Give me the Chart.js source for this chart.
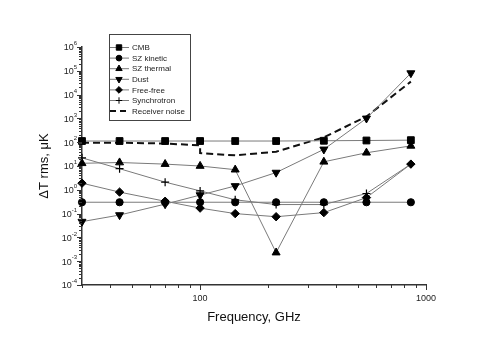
<!DOCTYPE html>
<html>
<head>
<meta charset="utf-8">
<script src="https://cdn.jsdelivr.net/npm/chart.js@4.4.1/dist/chart.umd.min.js"></script>
<style>
  body { margin: 0; background: #fff; }
  #wrap { width: 491px; height: 342px; }
</style>
</head>
<body>
<div id="wrap"><canvas id="spectrum" width="491" height="342"></canvas></div>
<script>
// frequencies (GHz) and rms temperature per component (uK)
var freqs = [30, 44, 70, 100, 143, 217, 353, 545, 857];
var cmb = [112, 112, 112, 112, 112, 112, 115, 118, 122];
var szKinetic = [0.3, 0.3, 0.3, 0.3, 0.3, 0.3, 0.3, 0.3, 0.3];
var szThermal = [13, 14, 12, 10, 7, 0.0023, 15, 36, 70];
var dust = [0.046, 0.087, 0.25, 0.6, 1.45, 5.3, 50, 1000, 80000];
var freeFree = [1.9, 0.8, 0.33, 0.17, 0.1, 0.074, 0.11, 0.47, 12];
var synchrotron = [22, 7.7, 2.1, 0.9, 0.38, 0.24, 0.24, 0.7, 12];
var noiseFreqs = [30, 44, 70, 100, 100, 143, 217, 353, 545, 857];
var noise = [95, 95, 88, 74, 35, 28, 40, 160, 1200, 35000];

var xTickLabels = [100, 1000];
var yDecades = [-4, -3, -2, -1, 0, 1, 2, 3, 4, 5, 6];

var FONT = '"Liberation Sans", Arial, sans-serif';

function isDecade(v) {
  var l = Math.log10(v);
  return Math.abs(l - Math.round(l)) < 1e-9;
}

function decadeTicks(lo, hi, from) {
  var out = [];
  for (var d = lo; d < hi; d++) {
    for (var m = 1; m < 10; m++) {
      var v = m * Math.pow(10, d);
      if (v >= from) out.push(v);
    }
  }
  out.push(Math.pow(10, hi));
  return out;
}

function pts(xs, ys) {
  return xs.map(function (x, i) { return { x: x, y: ys[i] }; });
}

function series(label, ys, style, radius, rot) {
  return {
    label: label,
    data: pts(freqs, ys),
    showLine: true,
    borderColor: '#7a7a7a',
    borderWidth: 1,
    pointStyle: style,
    pointRadius: radius,
    pointRotation: rot || 0,
    pointBackgroundColor: '#000',
    pointBorderColor: '#000',
    pointBorderWidth: style === 'cross' ? 1.2 : 1,
    clip: false
  };
}

var datasets = [
  series('CMB', cmb, 'rect', 4.8),
  series('SZ kinetic', szKinetic, 'circle', 3.6),
  series('SZ thermal', szThermal, 'triangle', 4.6),
  series('Dust', dust, 'triangle', 4.6, 180),
  series('Free-free', freeFree, 'rectRot', 4.2),
  series('Synchrotron', synchrotron, 'cross', 4),
  {
    label: 'Receiver noise',
    data: pts(noiseFreqs, noise),
    showLine: true,
    borderColor: '#111',
    borderWidth: 2,
    borderDash: [7, 4],
    pointRadius: 0,
    clip: false
  }
];

// outward tick marks and superscript decade labels
var axisDecor = {
  id: 'axisDecor',
  afterDraw: function (chart) {
    var ctx = chart.ctx, a = chart.chartArea;
    var xs = chart.scales.x, ys = chart.scales.y;
    ctx.save();
    ctx.strokeStyle = '#333';
    ctx.lineWidth = 1;
    ctx.beginPath();
    xs.ticks.forEach(function (t) {
      var p = Math.round(xs.getPixelForValue(t.value)) + 0.5;
      var len = isDecade(t.value) ? 5 : 3;
      ctx.moveTo(p, a.bottom);
      ctx.lineTo(p, a.bottom + len);
    });
    ys.ticks.forEach(function (t) {
      var p = Math.round(ys.getPixelForValue(t.value)) + 0.5;
      var len = isDecade(t.value) ? 5 : 3;
      ctx.moveTo(a.left, p);
      ctx.lineTo(a.left - len, p);
    });
    ctx.stroke();

    ctx.fillStyle = '#222';
    var right = a.left - 5;
    yDecades.forEach(function (d) {
      var p = ys.getPixelForValue(Math.pow(10, d));
      ctx.font = '6px ' + FONT;
      ctx.textAlign = 'left';
      ctx.textBaseline = 'middle';
      var e = String(d);
      var ew = ctx.measureText(e).width;
      ctx.fillText(e, right - ew, p - 3.5);
      ctx.font = '9px ' + FONT;
      ctx.textAlign = 'right';
      ctx.fillText('10', right - ew, p + 1);
    });
    ctx.restore();
  }
};

// framed legend: line with marker, then the name
var boxLegend = {
  id: 'boxLegend',
  afterDraw: function (chart) {
    var ctx = chart.ctx, a = chart.chartArea;
    var left = a.left + 27, top = a.top - 13, w = 81, h = 86;
    ctx.save();
    ctx.strokeStyle = '#444';
    ctx.lineWidth = 1;
    ctx.strokeRect(left + 0.5, top + 0.5, w, h);
    ctx.font = '8px ' + FONT;
    ctx.textBaseline = 'middle';
    ctx.textAlign = 'left';
    chart.data.datasets.forEach(function (ds, i) {
      var y = top + 13.5 + i * 10.6;
      ctx.save();
      ctx.strokeStyle = ds.borderColor;
      ctx.lineWidth = ds.borderWidth;
      if (ds.borderDash) ctx.setLineDash([6, 4]);
      ctx.beginPath();
      ctx.moveTo(left + 1, y);
      ctx.lineTo(left + 20, y);
      ctx.stroke();
      ctx.restore();
      if (ds.pointRadius > 0) {
        ctx.fillStyle = '#000';
        ctx.strokeStyle = '#000';
        Chart.helpers.drawPoint(ctx, {
          pointStyle: ds.pointStyle,
          rotation: ds.pointRotation,
          radius: ds.pointRadius * 0.8,
          borderWidth: ds.pointBorderWidth
        }, left + 10, y);
      }
      ctx.fillStyle = '#222';
      ctx.fillText(ds.label, left + 23, y + 0.5);
    });
    ctx.restore();
  }
};

window.onload = function () {
  var ctx = document.getElementById('spectrum').getContext('2d');
  window.spectrumChart = new Chart(ctx, {
    type: 'scatter',
    data: { datasets: datasets },
    options: {
      responsive: false,
      animation: false,
      devicePixelRatio: 1,
      layout: { padding: { top: 47, right: 65, left: 0, bottom: 0 } },
      plugins: { legend: { display: false }, tooltip: { enabled: false } },
      scales: {
        x: {
          type: 'logarithmic',
          position: 'bottom',
          min: 30,
          max: 1000,
          grid: { display: false, drawTicks: false },
          border: { display: true, color: '#333', width: 1.5 },
          afterBuildTicks: function (s) {
            s.ticks = decadeTicks(1, 3, 30).map(function (v) { return { value: v }; });
          },
          afterFit: function (s) { s.height = 57; },
          ticks: {
            autoSkip: false,
            maxRotation: 0,
            padding: 8,
            color: '#222',
            font: { size: 9, family: FONT },
            callback: function (v) { return xTickLabels.indexOf(v) >= 0 ? String(v) : ''; }
          },
          title: {
            display: true,
            text: 'Frequency, GHz',
            color: '#111',
            font: { size: 13, family: FONT },
            padding: { top: 0, bottom: 17 }
          }
        },
        y: {
          type: 'logarithmic',
          min: 1e-4,
          max: 1e6,
          grid: { display: false, drawTicks: false },
          border: { display: true, color: '#333', width: 1.5 },
          afterBuildTicks: function (s) {
            s.ticks = decadeTicks(-4, 6, 1e-4).map(function (v) { return { value: v }; });
          },
          afterFit: function (s) { s.width = 82; },
          ticks: {
            autoSkip: false,
            callback: function () { return ''; }
          },
          title: {
            display: true,
            text: 'ΔT rms, μK',
            color: '#111',
            font: { size: 13, family: FONT },
            padding: { top: 37, bottom: 0 }
          }
        }
      }
    },
    plugins: [axisDecor, boxLegend]
  });
};
</script>
</body>
</html>
